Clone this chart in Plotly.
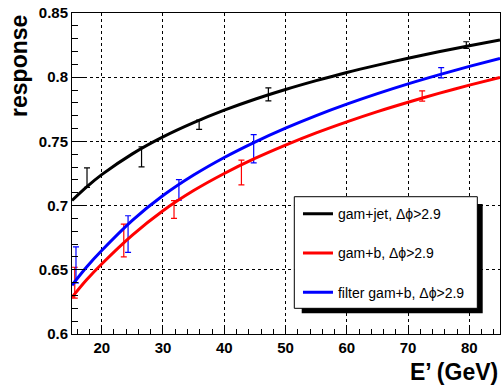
import plotly.graph_objects as go

# ---------------- data ----------------
fit_x = [15.15, 17.5, 20, 25, 30, 35, 40, 45, 50, 55, 60, 65, 70, 75, 80, 85]
fit_jet = [0.7040, 0.7144, 0.7241, 0.7403, 0.7535, 0.7646, 0.7743, 0.7828, 0.7904, 0.7973,
           0.8037, 0.8094, 0.8148, 0.8198, 0.8245, 0.8289]
fit_b = [0.6286, 0.6420, 0.6545, 0.6770, 0.6960, 0.7117, 0.7250, 0.7367, 0.7471, 0.7566,
         0.7652, 0.7732, 0.7805, 0.7874, 0.7938, 0.7998]
fit_fb = [0.6380, 0.6520, 0.6650, 0.6885, 0.7078, 0.7238, 0.7375, 0.7495, 0.7603, 0.7701,
          0.7790, 0.7872, 0.7948, 0.8018, 0.8084, 0.8146]

jet_x = [17.6, 26.5, 35.9, 47.2, 79.5]
jet_y = [0.7218, 0.7379, 0.7629, 0.7866, 0.8250]
jet_e = [0.0076, 0.0078, 0.0036, 0.0051, 0.0026]

b_x = [15.6, 23.6, 31.8, 42.8, 72.3]
b_y = [0.6400, 0.6728, 0.6969, 0.7258, 0.7853]
b_e = [0.0120, 0.0127, 0.0069, 0.0096, 0.0040]

fb_x = [15.8, 24.3, 32.6, 44.8, 75.4]
fb_y = [0.6538, 0.6778, 0.7122, 0.7443, 0.8035]
fb_e = [0.0140, 0.0143, 0.0080, 0.0110, 0.0040]

names = ["gam+jet, \u0394\u03d5>2.9", "gam+b, \u0394\u03d5>2.9", "filter gam+b, \u0394\u03d5>2.9"]
colors = ["#000000", "#ff0000", "#0000ff"]

x_ticks = [20, 30, 40, 50, 60, 70, 80]
x_ticklabels = ["20", "30", "40", "50", "60", "70", "80"]
x_minor = [16, 18, 22, 24, 26, 28, 32, 34, 36, 38, 42, 44, 46, 48, 52, 54, 56, 58,
           62, 64, 66, 68, 72, 74, 76, 78, 82, 84]
y_ticks = [0.6, 0.65, 0.7, 0.75, 0.8, 0.85]
y_ticklabels = ["0.6", "0.65", "0.7", "0.75", "0.8", "0.85"]
y_minor = [0.61, 0.62, 0.63, 0.64, 0.66, 0.67, 0.68, 0.69, 0.71, 0.72, 0.73, 0.74,
           0.76, 0.77, 0.78, 0.79, 0.81, 0.82, 0.83, 0.84]

FONT = "Liberation Sans, Arial, Helvetica, sans-serif"

fig = go.Figure()

pts = [(jet_x, jet_y, jet_e), (b_x, b_y, b_e), (fb_x, fb_y, fb_e)]
for (px, py, pe), c in zip(pts, colors):
    fig.add_trace(go.Scatter(
        x=px, y=py, mode="markers", marker=dict(size=0.1, color=c),
        error_y=dict(type="data", array=pe, visible=True, color=c, thickness=1.2, width=3),
        showlegend=False, hoverinfo="skip"))

for fy, n, c in zip([fit_jet, fit_b, fit_fb], names, colors):
    fig.add_trace(go.Scatter(
        x=fit_x, y=fy, mode="lines", name=n, legendgroup=n,
        line=dict(color=c, width=3, shape="spline", smoothing=0.8)))

axis_common = dict(
    showline=True, linecolor="black", linewidth=1, mirror=True,
    ticks="inside", tickcolor="black", tickwidth=1,
    showgrid=True, gridcolor="black", griddash="dot", gridwidth=1,
    zeroline=False,
    tickfont=dict(family=FONT, size=15, color="black", weight="bold"),
)

fig.update_layout(
    width=501, height=388,
    margin=dict(l=72, r=1, t=13, b=54),
    paper_bgcolor="white", plot_bgcolor="white",
    xaxis=dict(range=[15.15, 85], tickvals=x_ticks, ticktext=x_ticklabels, ticklen=9,
               minor=dict(tickvals=x_minor, ticks="inside", ticklen=5, tickcolor="black",
                          showgrid=False),
               **axis_common),
    yaxis=dict(range=[0.6, 0.85], tickvals=y_ticks, ticktext=y_ticklabels, ticklen=13,
               minor=dict(tickvals=y_minor, ticks="inside", ticklen=6, tickcolor="black",
                          showgrid=False),
               **axis_common),
    legend=dict(x=0.528, y=0.4232, xanchor="left", yanchor="top",
                bgcolor="rgba(0,0,0,0)", borderwidth=0,
                traceorder="grouped", tracegroupgap=18,
                font=dict(family=FONT, size=14, color="black")),
    shapes=[
        dict(type="rect", xref="paper", yref="paper", x0=0.5367, x1=0.9596, y0=0.0645, y1=0.405,
             fillcolor="black", line=dict(width=0), layer="above"),
        dict(type="rect", xref="paper", yref="paper", x0=0.5194, x1=0.947, y0=0.080, y1=0.4277,
             fillcolor="white", line=dict(color="black", width=1), layer="above"),
    ],
    annotations=[
        dict(text="<b>E\u2019 (GeV)</b>", xref="paper", yref="paper", x=1.0, y=-0.118,
             xanchor="right", yanchor="middle", showarrow=False,
             font=dict(family=FONT, size=23, color="black")),
        dict(text="<b>response</b>", xref="paper", yref="paper", x=-0.124, y=1.0,
             xanchor="center", yanchor="top", textangle=-90, showarrow=False,
             font=dict(family=FONT, size=23, color="black")),
    ],
)

fig.write_html("out.html", config={"displayModeBar": False},
               post_script="document.body.style.margin='0px';")
